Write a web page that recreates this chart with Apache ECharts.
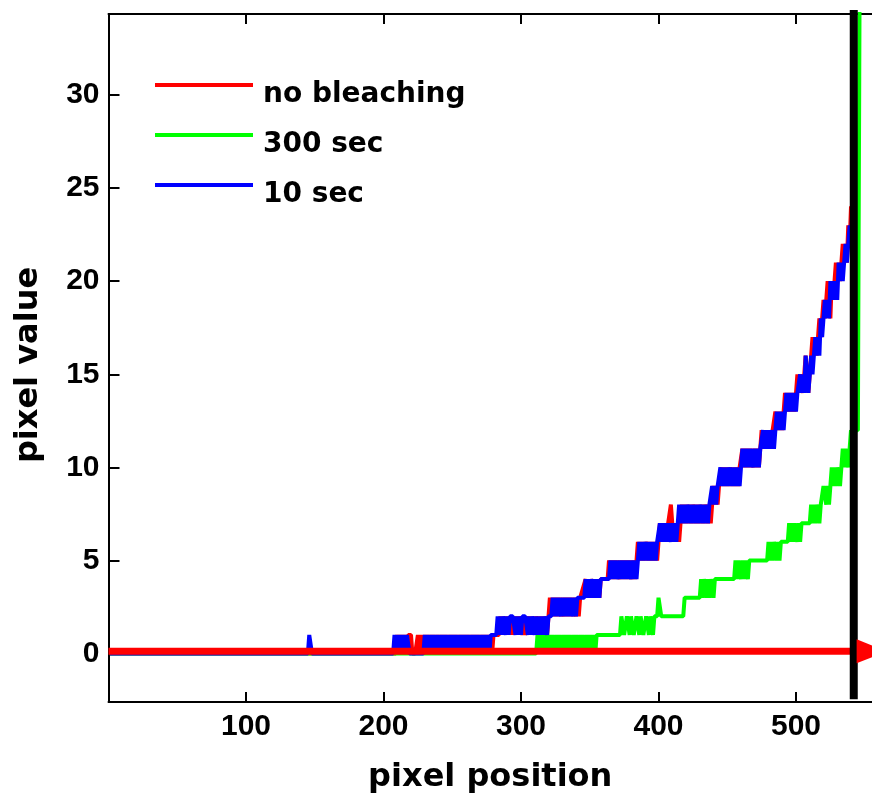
<!DOCTYPE html>
<html>
<head>
<meta charset="utf-8">
<title>pixel value vs pixel position</title>
<script src="https://cdn.jsdelivr.net/npm/echarts@6/dist/echarts.min.js"></script>
<style>
html, body { margin: 0; padding: 0; background: #fff; }
#chart { width: 872px; height: 794px; }
</style>
</head>
<body>
<div id="chart"></div>
<script>
// tick labels
var xTicks = [100, 200, 300, 400, 500];
var yTicks = [0, 5, 10, 15, 20, 25, 30];
var seriesNames = ['no bleaching', '300 sec', '10 sec'];

// each run: [first pixel position, [pixel values at that position and the following ones]]
// runs are joined in order, so a gap between two runs is a flat stretch
var noBleachRuns = [
    [1, [0]],
    [209, [0,1,0,1,0,1,0,1,0,1, 1,1,0,0,0,0,1,0,1,1, 0,1,0]],
    [232, [1,0,1,0,1,1,0,1,0,1, 0,1,0,1,1,0,1,0,1,0, 1,1,0,1,0,1,0,1,0,1, 1,0,1,0,1,0,1,1,0,1, 0,1,0,1,0,1,1,0,1]],
    [284, [1,2,1,2,1,2,1,2,1,2, 1,2,1,2,1,2,2,1,2,1, 1,2,1,2,1,2,1,2,2,1, 2,1,2,1,2,1,2,3]],
    [322, [2,3,2,3,2,3,2,3,3,2, 3,2,3,2,3,2,3,3,2,3, 2,3]],
    [347, [4,3,4,3,4,4,3,4,3,4, 3,4,4]],
    [363, [4,5,4,5,4,5,4,5,5,4, 5,4,5,4,5,4,5,5,4,5, 4,5,6]],
    [386, [5,6,5,6,5,6,6,5,6,5, 6,5,6,5,6,7]],
    [402, [6,7,6,7,6,7,7,8,7,6, 7,6,7,6,7]],
    [417, [8,7,8,7,8,7,8,7,8,8, 7,8,7,8,7,8,7,8,8,7, 8,7,8,9]],
    [441, [8,9,8,9,9,10]],
    [447, [9,10,9,10,9,10,10,9,10,9, 10,9,10,10,11]],
    [462, [10,11,10,11,10,11,11,10,11,10, 11,10,11,12,11]],
    [477, [12,11,12,11,12,11,12,12,13,12]],
    [487, [13,12,13,12,13,14,13]],
    [494, [14,13,14,13,14,13,14,15,14,15]],
    [504, [15,14,15,16,15,14,15,16,17,16,17]],
    [515, [16,17,18,17,18,19,18]],
    [522, [19,20,19,18,20,19,20,21]],
    [530, [20,21,20,21,22,21]],
    [536, [22,21,23,22,24,24]],
    [542, [24,45]]
];

var sec300Runs = [
    [1, [0]],
    [311, [0,1,0,1,0,1,0,1,1,0, 1,0,1,1,0,1,0,1,1,0, 1,0,1,0,1,1,0,1,0,1, 1,0,1,0,1,1,0,1,0,1, 0,1,1,0,1]],
    [372, [1,2,2,1,1,2,2,1,2,2, 1,1,2,2,1,2,2,1,1,2, 2,1,2,2,1,2,2]],
    [399, [2,3,3,2,2]],
    [418, [2,3]],
    [430, [3,4,3,4,4,3,4,3,4,4, 3,4,4,4]],
    [455, [4,5,4,5,5,4,5,4,5,5, 4,5,5]],
    [479, [5,6,5,6,5,6,6,5,6,5, 6,6,6]],
    [494, [6,7,6,7,6,7,7,6,7,6, 7,7]],
    [510, [7,8,7,8,7,8,8,7,8,8, 9]],
    [521, [9,8,9,8,9,10,9,10,9,10, 10,9]],
    [533, [10,11,10,11,11,10,11,12]],
    [541, [12,11,12,12,12,31,50]]
];

var sec10Runs = [
    [1, [0]],
    [145, [0,1,1,0]],
    [207, [0,1,1,0,1,0,1,0,1,0, 1,1,0]],
    [229, [0,1,0,1,1,0,1,0,1,0, 1,1,0,1,0,1,0,1,1,0, 1,0,1,0,1,1,0,1,0,1, 0,1,0,1,1,0,1,0,1,0, 1,1,0,1,0,1,0,1,0,1, 1]],
    [282, [1,2,1,2,1,2,2,1,2,1, 2,2,2,2,1,2,1,2,1,2, 2,2,2,1,2,1,2,2,1,2, 1,2,1,2,1,2,2,1,2]],
    [322, [2,3,2,3,2,3,3,2,3,2, 3,2,3,2,3,3,2,3,2,3, 3]],
    [346, [3,4,3,4,3,4,4,3,4,3, 4,3,4]],
    [364, [4,5,4,5,4,5,5,4,5,4, 5,4,5,4,5,5,4,5,4,5, 4,5]],
    [386, [6,5,6,5,6,6,5,6,5,6, 5,6,5,6,6]],
    [401, [7,6,7,6,7,6,7,7,6,7, 6,7,6,7]],
    [415, [8,7,8,7,8,7,8,8,7,8, 7,8,7,8,7,8,8,7,8,7, 8,7,8,8]],
    [439, [9,8,9,8,9,9]],
    [445, [10,9,10,9,10,9,10,10,9,10, 9,10,9,10,9,10]],
    [461, [11,10,11,10,11,10,11,11,10,11, 10,11,10,11,11]],
    [476, [12,11,12,11,12,11,12,12,11,12]],
    [486, [13,12,13,12,13,12,13]],
    [493, [14,13,14,13,14,13,14,13,14,14]],
    [503, [15,14,15,14,16,15,14,15,16,15,16]],
    [514, [17,16,17,16,18,17,18]],
    [521, [19,18,19,18,20,19,20,19]],
    [529, [20,19,21,20,21,20]],
    [535, [21,22,21,22]],
    [539, [23,22,24]],
    [542, [30,45]]
];

// the black cut-off line and the red arrow along zero
var cutoffLine = [[542, -2.45], [542, 40]];
var zeroArrow = [[0, 0.12], [555, 0.12]];

function expand(runs) {
    var pts = [];
    runs.forEach(function (run) {
        run[1].forEach(function (v, i) {
            pts.push([run[0] + i, v]);
        });
    });
    return pts;
}

function curve(name, color, runs) {
    return {
        name: name,
        type: 'line',
        data: expand(runs),
        symbol: 'none',
        showSymbol: false,
        clip: true,
        silent: true,
        itemStyle: { color: color },
        lineStyle: { color: color, width: 4, join: 'bevel' }
    };
}

var chart = echarts.init(document.getElementById('chart'));

var tickFont = {
    fontFamily: 'Liberation Sans, Arial, sans-serif',
    fontWeight: 'bold',
    fontSize: 30,
    color: '#000'
};
var xNameFont = {
    fontFamily: 'DejaVu Sans, sans-serif',
    fontWeight: 'bold',
    fontSize: 32,
    color: '#000'
};
var yNameFont = Object.assign({ padding: [0, 14, 0, 0] }, xNameFont);
var blackLine = { show: true, onZero: false, lineStyle: { color: '#000', width: 2 } };

// the plot box runs off the right edge of the picture; x max is where it is cut
var xMax = 555.27;

var option = {
    animation: false,
    backgroundColor: '#fff',
    grid: { left: 108.5, top: 14, right: 0, bottom: 92, containLabel: false, outerBoundsMode: 'none' },
    legend: {
        data: seriesNames,
        orient: 'vertical',
        left: 155,
        top: 75,
        padding: 0,
        itemGap: 10,
        itemWidth: 98,
        itemHeight: 24,
        // legend stroke sits at the top of the icon box so the label hangs below it
        icon: 'path://M0,0L98,0L98,4L0,4Z M0,24L0.01,24L0.01,23.99Z',
        selectedMode: false,
        textStyle: {
            fontFamily: 'DejaVu Sans, sans-serif',
            fontWeight: 'bold',
            fontSize: 28,
            lineHeight: 30,
            color: '#000',
            padding: [10, 0, 0, 5]
        }
    },
    xAxis: [
        {
            type: 'value',
            min: 0,
            max: xMax,
            position: 'bottom',
            name: 'pixel position',
            nameLocation: 'middle',
            nameGap: 60,
            nameTextStyle: xNameFont,
            axisLine: blackLine,
            axisTick: { show: true, inside: true, length: 10, customValues: xTicks, lineStyle: { color: '#000', width: 2 } },
            axisLabel: Object.assign({ customValues: xTicks, margin: 10 }, tickFont),
            splitLine: { show: false }
        },
        {
            type: 'value',
            min: 0,
            max: xMax,
            position: 'top',
            axisLine: blackLine,
            axisTick: { show: true, inside: true, length: 10, customValues: xTicks, lineStyle: { color: '#000', width: 2 } },
            axisLabel: { show: false },
            splitLine: { show: false }
        }
    ],
    yAxis: [
        {
            type: 'value',
            min: -2.6,
            max: 34.35,
            position: 'left',
            name: 'pixel value',
            nameLocation: 'middle',
            nameGap: 64,
            nameTextStyle: yNameFont,
            axisLine: blackLine,
            axisTick: { show: true, inside: true, length: 11, customValues: yTicks, lineStyle: { color: '#000', width: 2 } },
            axisLabel: Object.assign({ customValues: yTicks, margin: 9 }, tickFont),
            splitLine: { show: false }
        }
    ],
    series: [
        curve(seriesNames[0], '#ff0000', noBleachRuns),
        curve(seriesNames[1], '#00ff00', sec300Runs),
        curve(seriesNames[2], '#0000ff', sec10Runs),
        {
            type: 'line',
            silent: true,
            symbol: 'none',
            showSymbol: true,
            data: [
                { value: zeroArrow[0] },
                { value: zeroArrow[1], symbol: 'triangle', symbolSize: [24, 30], symbolRotate: -90 }
            ],
            itemStyle: { color: '#ff0000' },
            lineStyle: { color: '#ff0000', width: 7 }
        },
        {
            type: 'line',
            silent: true,
            symbol: 'none',
            data: cutoffLine,
            lineStyle: { color: '#000', width: 8 }
        }
    ]
};

chart.setOption(option);
</script>
</body>
</html>
